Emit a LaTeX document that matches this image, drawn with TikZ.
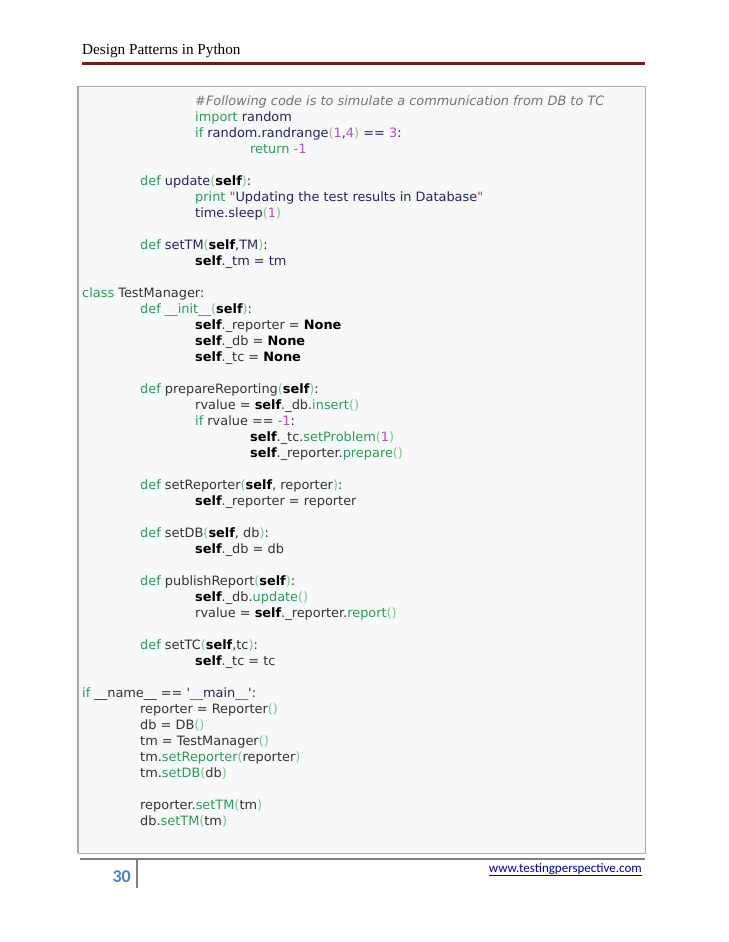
\documentclass[tikz,border=0pt]{standalone}
\usepackage{fontspec}
\setmainfont{DejaVu Sans}
\newfontfamily\qfont{DejaVu Sans}
\newfontfamily\hdrfont{Liberation Serif}
\newfontfamily\ftfont{Carlito}
\definecolor{kwg}{HTML}{2E9A5A}
\definecolor{numc}{HTML}{B84FC0}
\definecolor{parc}{HTML}{7CC48A}
\definecolor{idc}{HTML}{25255E}
\definecolor{strq}{HTML}{C0392B}
\definecolor{boxbg}{HTML}{F6F8FA}
\definecolor{pgblue}{HTML}{4F81BD}
\newcommand{\ckw}[1]{\textcolor{kwg}{#1}}
\newcommand{\cnum}[1]{\textcolor{numc}{#1}}
\newcommand{\cp}[1]{\textcolor{parc}{#1}}
\newcommand{\cself}{\textbf{\textcolor{black}{self}}}
\newcommand{\dq}{\textcolor{strq}{{\qfont\char"22}}}
\newcommand{\sq}{{\qfont\char"27}}
\begin{document}
\begin{tikzpicture}[x=1pt,y=-1pt,
  code/.style={anchor=base west,inner sep=0pt,font=\fontsize{12.9}{14}\selectfont,text=idc}]
\useasboundingbox (0,0) rectangle (728,942);
\fill[white] (0,0) rectangle (728,942);
\node[anchor=base west,inner sep=0pt,font=\hdrfont\fontsize{15.2}{17}\selectfont] (hdr) at (82,55) {Design Patterns in Python};
\draw[line width=3pt,color=red!40!black!90] (82,64) -- (645,64);
\draw[fill=boxbg,draw=gray!60] (78,86) rectangle (645,853);
\draw[line width=2.2pt,gray!70] (78,86) -- (78,853);
\def\La{82}\def\Lb{140}\def\Lc{195}\def\Ld{250}
\node[code] (l1) at (\Lc,105) {\textcolor{gray!90!black}{\itshape\#Following code is to simulate a communication from DB to TC}};
\node[code] (l2) at (\Lc,121) {\ckw{import} random};
\node[code] (l3) at (\Lc,137) {\ckw{if} random.randrange\cp{(}\cnum{1},\cnum{4}\cp{)} == \cnum{3}:};
\node[code] (l4) at (\Ld,153) {\ckw{return} \cnum{-1}};
\node[code] (l5) at (\Lb,185) {\ckw{def} update\cp{(}\cself\cp{)}:};
\node[code] (l6) at (\Lc,201) {\ckw{print} \dq Updating the test results in Database\dq};
\node[code] (l7) at (\Lc,217) {time.sleep\cp{(}\cnum{1}\cp{)}};
\node[code] (l8) at (\Lb,249) {\ckw{def} setTM\cp{(}\cself,TM\cp{)}:};
\node[code] (l9) at (\Lc,265) {\cself.\_tm = tm};
\begin{scope}[code/.append style={text=black!80}]
\node[code] (l10) at (\La,297) {\ckw{class} TestManager:};
\node[code] (l11) at (\Lb,313) {\ckw{def} \ckw{\_\_init\_\_}\cp{(}\cself\cp{)}:};
\node[code] (l12) at (\Lc,329) {\cself.\_reporter = \textbf{\textcolor{black}{None}}};
\node[code] (l13) at (\Lc,345) {\cself.\_db = \textbf{\textcolor{black}{None}}};
\node[code] (l14) at (\Lc,361) {\cself.\_tc = \textbf{\textcolor{black}{None}}};
\node[code] (l15) at (\Lb,393) {\ckw{def} prepareReporting\cp{(}\cself\cp{)}:};
\node[code] (l16) at (\Lc,409) {rvalue = \cself.\_db.\ckw{insert}\cp{()}};
\node[code] (l17) at (\Lc,425) {\ckw{if} rvalue == \cnum{-1}:};
\node[code] (l18) at (\Ld,441) {\cself.\_tc.\ckw{setProblem}\cp{(}\cnum{1}\cp{)}};
\node[code] (l19) at (\Ld,457) {\cself.\_reporter.\ckw{prepare}\cp{()}};
\node[code] (l20) at (\Lb,489) {\ckw{def} setReporter\cp{(}\cself, reporter\cp{)}:};
\node[code] (l21) at (\Lc,505) {\cself.\_reporter = reporter};
\node[code] (l22) at (\Lb,537) {\ckw{def} setDB\cp{(}\cself, db\cp{)}:};
\node[code] (l23) at (\Lc,553) {\cself.\_db = db};
\node[code] (l24) at (\Lb,585) {\ckw{def} publishReport\cp{(}\cself\cp{)}:};
\node[code] (l25) at (\Lc,601) {\cself.\_db.\ckw{update}\cp{()}};
\node[code] (l26) at (\Lc,617) {rvalue = \cself.\_reporter.\ckw{report}\cp{()}};
\node[code] (l27) at (\Lb,649) {\ckw{def} setTC\cp{(}\cself,tc\cp{)}:};
\node[code] (l28) at (\Lc,665) {\cself.\_tc = tc};
\node[code] (l29) at (\La,697) {\ckw{if} \_\_name\_\_ == \sq\textcolor{strq}{\_\_}\textcolor{idc}{main}\textcolor{strq}{\_\_}\sq:};
\node[code] (l30) at (\Lb,713) {reporter = Reporter\cp{()}};
\node[code] (l31) at (\Lb,729) {db = DB\cp{()}};
\node[code] (l32) at (\Lb,745) {tm = TestManager\cp{()}};
\node[code] (l33) at (\Lb,761) {tm.\ckw{setReporter}\cp{(}reporter\cp{)}};
\node[code] (l34) at (\Lb,777) {tm.\ckw{setDB}\cp{(}db\cp{)}};
\node[code] (l35) at (\Lb,809) {reporter.\ckw{setTM}\cp{(}tm\cp{)}};
\node[code] (l36) at (\Lb,825) {db.\ckw{setTM}\cp{(}tm\cp{)}};
\end{scope}
\draw[line width=2pt,gray] (80,859) -- (645,859);
\draw[line width=2pt,gray] (137,859) -- (137,888);
\node[anchor=base east,inner sep=0pt,font=\ftfont\bfseries\fontsize{18}{20}\selectfont,text=pgblue] (pg) at (131,882) {30};
\node[anchor=base east,inner sep=0pt,font=\ftfont\fontsize{13}{15}\selectfont,text=blue!70!black] (url) at (642,872) {\underline{www.testingperspective.com}};
\end{tikzpicture}
\end{document}
